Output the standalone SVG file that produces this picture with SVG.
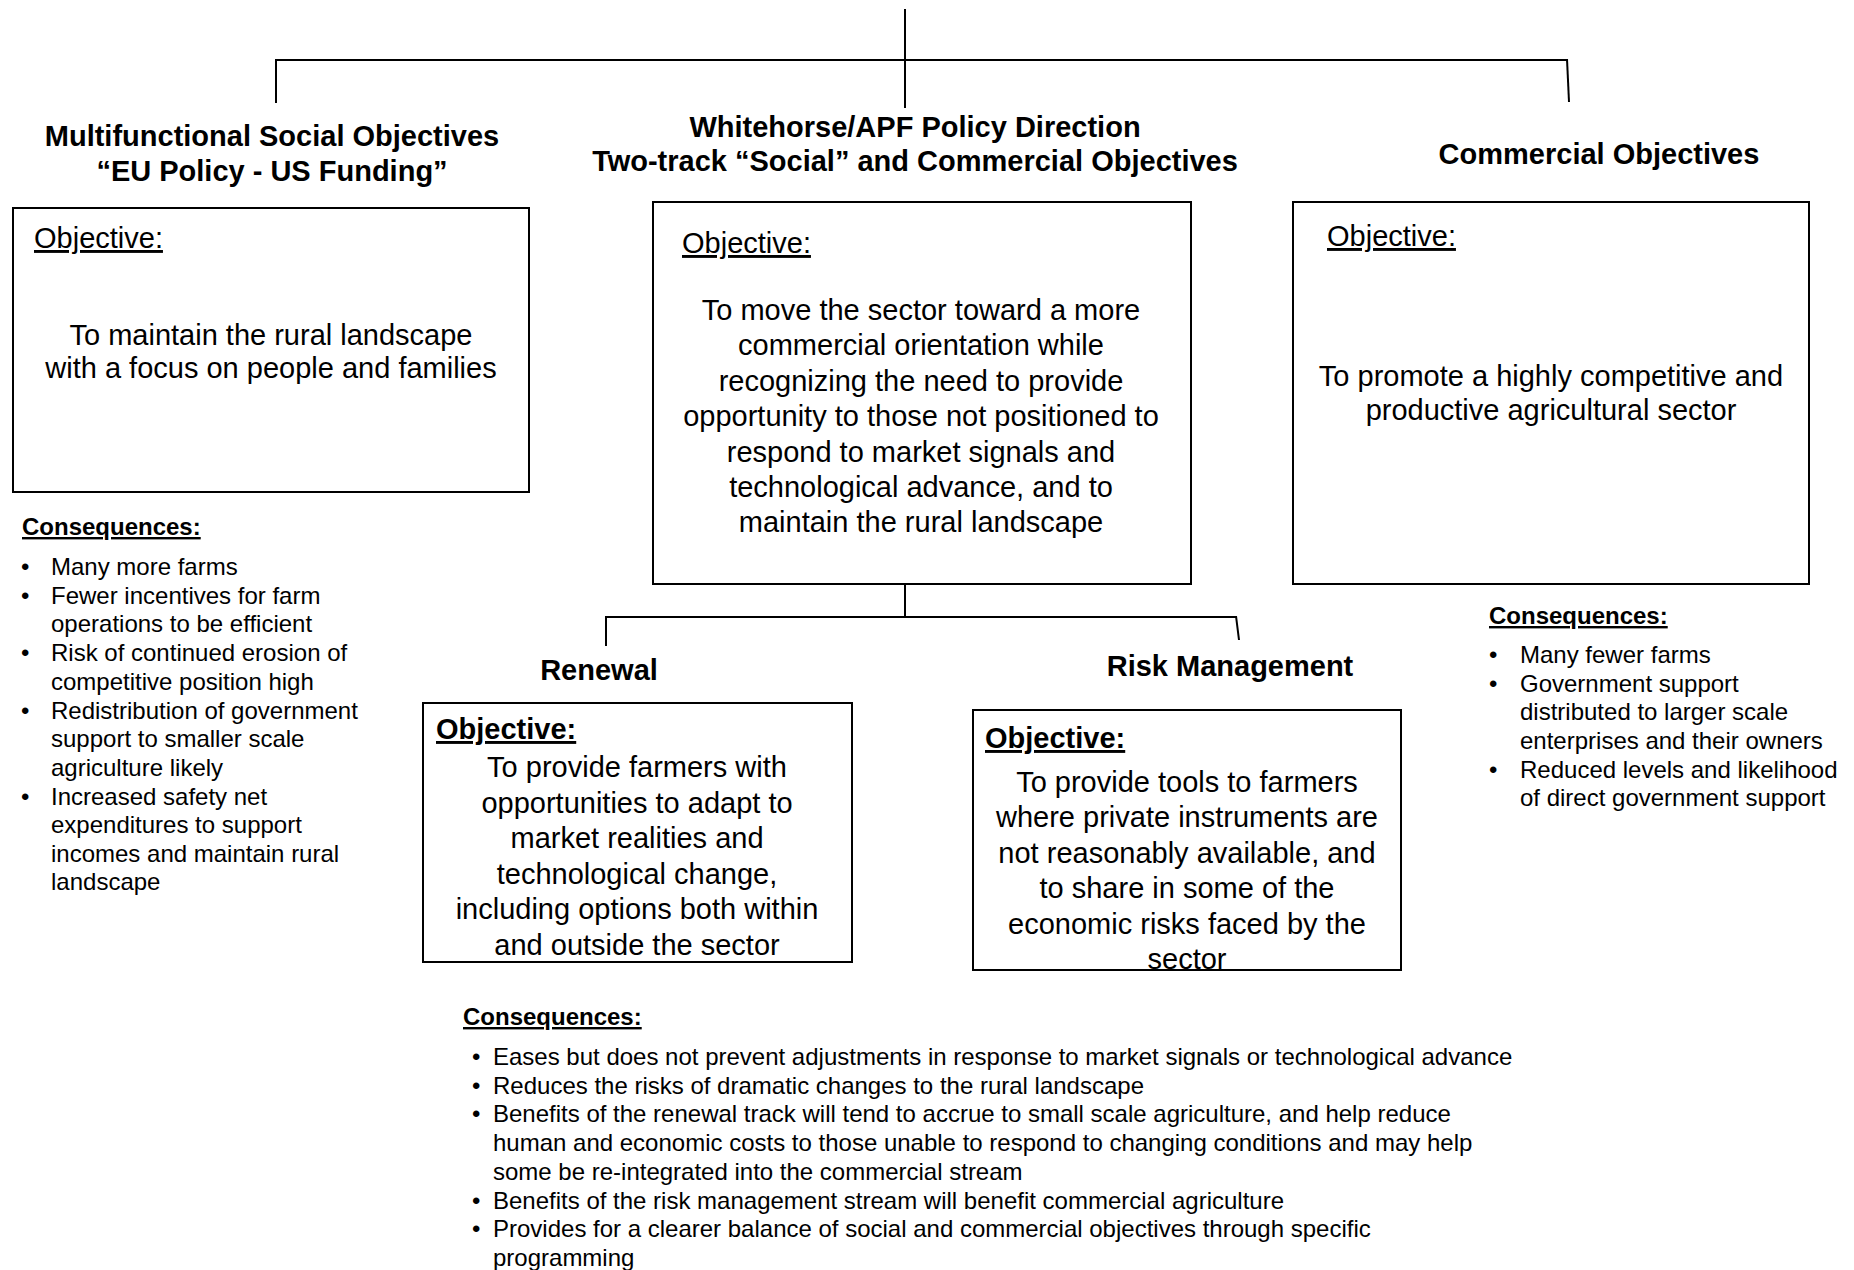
<svg xmlns="http://www.w3.org/2000/svg" width="1854" height="1270" viewBox="0 0 1854 1270">
<defs>
<style>
.box{fill:#fff;stroke:#000;stroke-width:2}
.ln{stroke:#000;stroke-width:2;fill:none}
text{font-family:"Liberation Sans",Arial,sans-serif;fill:#000}
.h{font-size:29px;font-weight:bold;text-anchor:middle}
.b{font-size:29px;text-anchor:middle}
.obj{font-size:29px;text-decoration:underline}
.objb{font-size:29px;font-weight:bold;text-decoration:underline}
.cq{font-size:24px;font-weight:bold;text-decoration:underline}
.li{font-size:24px}
</style>
<clipPath id="riskClip"><rect x="973" y="710" width="428" height="259"/></clipPath>
</defs>
<rect width="1854" height="1270" fill="#fff"/>

<g id="connectors">
<line class="ln" x1="905" y1="9" x2="905" y2="108"/>
<line class="ln" x1="276" y1="60" x2="1567" y2="60"/>
<line class="ln" x1="276" y1="59" x2="276" y2="103"/>
<line class="ln" x1="1567" y1="59" x2="1569" y2="102"/>
<line class="ln" x1="905" y1="584" x2="905" y2="617"/>
<line class="ln" x1="606" y1="617" x2="1236" y2="617"/>
<line class="ln" x1="606" y1="616" x2="606" y2="646"/>
<line class="ln" x1="1236" y1="616" x2="1239" y2="640"/>
</g>

<g id="node-multifunctional">
<text class="h" x="272" y="146">Multifunctional Social Objectives</text>
<text class="h" x="272" y="181">“EU Policy - US Funding”</text>
<rect class="box" x="13" y="208" width="516" height="284"/>
<text class="obj" x="34" y="248">Objective:</text>
<text class="b" x="271" y="345">To maintain the rural landscape</text>
<text class="b" x="271" y="378">with a focus on people and families</text>
</g>

<g id="node-multifunctional-consequences">
<text class="cq" x="22" y="535">Consequences:</text>
<text class="li" x="21" y="575">•</text><text class="li" x="51" y="575">Many more farms</text>
<text class="li" x="21" y="604">•</text><text class="li" x="51" y="604">Fewer incentives for farm</text>
<text class="li" x="51" y="632">operations to be efficient</text>
<text class="li" x="21" y="661">•</text><text class="li" x="51" y="661">Risk of continued erosion of</text>
<text class="li" x="51" y="689.5">competitive position high</text>
<text class="li" x="21" y="719">•</text><text class="li" x="51" y="719">Redistribution of government</text>
<text class="li" x="51" y="747">support to smaller scale</text>
<text class="li" x="51" y="775.5">agriculture likely</text>
<text class="li" x="21" y="805">•</text><text class="li" x="51" y="805">Increased safety net</text>
<text class="li" x="51" y="833">expenditures to support</text>
<text class="li" x="51" y="861.5">incomes and maintain rural</text>
<text class="li" x="51" y="890">landscape</text>
</g>

<g id="node-whitehorse">
<text class="h" x="915" y="137">Whitehorse/APF Policy Direction</text>
<text class="h" x="915" y="171">Two-track “Social” and Commercial Objectives</text>
<rect class="box" x="653" y="202" width="538" height="382"/>
<text class="obj" x="682" y="253">Objective:</text>
<text class="b" x="921" y="320">To move the sector toward a more</text>
<text class="b" x="921" y="355.4">commercial orientation while</text>
<text class="b" x="921" y="390.8">recognizing the need to provide</text>
<text class="b" x="921" y="426.2">opportunity to those not positioned to</text>
<text class="b" x="921" y="461.6">respond to market signals and</text>
<text class="b" x="921" y="497">technological advance, and to</text>
<text class="b" x="921" y="532.4">maintain the rural landscape</text>
</g>

<g id="node-commercial">
<text class="h" x="1599" y="164">Commercial Objectives</text>
<rect class="box" x="1293" y="202" width="516" height="382"/>
<text class="obj" x="1327" y="246">Objective:</text>
<text class="b" x="1551" y="386">To promote a highly competitive and</text>
<text class="b" x="1551" y="420">productive agricultural sector</text>
</g>

<g id="node-commercial-consequences">
<text class="cq" x="1489" y="624">Consequences:</text>
<text class="li" x="1489" y="663">•</text><text class="li" x="1520" y="663">Many fewer farms</text>
<text class="li" x="1489" y="691.5">•</text><text class="li" x="1520" y="691.5">Government support</text>
<text class="li" x="1520" y="720">distributed to larger scale</text>
<text class="li" x="1520" y="749">enterprises and their owners</text>
<text class="li" x="1489" y="777.5">•</text><text class="li" x="1520" y="777.5">Reduced levels and likelihood</text>
<text class="li" x="1520" y="806">of direct government support</text>
</g>

<g id="node-renewal">
<text class="h" x="599" y="680">Renewal</text>
<rect class="box" x="423" y="703" width="429" height="259"/>
<text class="objb" x="436" y="739">Objective:</text>
<text class="b" x="637" y="777">To provide farmers with</text>
<text class="b" x="637" y="812.5">opportunities to adapt to</text>
<text class="b" x="637" y="848">market realities and</text>
<text class="b" x="637" y="883.5">technological change,</text>
<text class="b" x="637" y="919">including options both within</text>
<text class="b" x="637" y="954.5">and outside the sector</text>
</g>

<g id="node-risk">
<text class="h" x="1230" y="676">Risk Management</text>
<rect class="box" x="973" y="710" width="428" height="260"/>
<text class="objb" x="985" y="748">Objective:</text>
<g clip-path="url(#riskClip)">
<text class="b" x="1187" y="792">To provide tools to farmers</text>
<text class="b" x="1187" y="827.4">where private instruments are</text>
<text class="b" x="1187" y="862.8">not reasonably available, and</text>
<text class="b" x="1187" y="898.2">to share in some of the</text>
<text class="b" x="1187" y="933.6">economic risks faced by the</text>
<text class="b" x="1187" y="969">sector</text>
</g>
</g>

<g id="node-twotrack-consequences">
<text class="cq" x="463" y="1025">Consequences:</text>
<text class="li" x="472" y="1065">•</text><text class="li" x="493" y="1065">Eases but does not prevent adjustments in response to market signals or technological advance</text>
<text class="li" x="472" y="1093.5">•</text><text class="li" x="493" y="1093.5">Reduces the risks of dramatic changes to the rural landscape</text>
<text class="li" x="472" y="1122">•</text><text class="li" x="493" y="1122">Benefits of the renewal track will tend to accrue to small scale agriculture, and help reduce</text>
<text class="li" x="493" y="1151">human and economic costs to those unable to respond to changing conditions and may help</text>
<text class="li" x="493" y="1180">some be re-integrated into the commercial stream</text>
<text class="li" x="472" y="1208.5">•</text><text class="li" x="493" y="1208.5">Benefits of the risk management stream will benefit commercial agriculture</text>
<text class="li" x="472" y="1237">•</text><text class="li" x="493" y="1237">Provides for a clearer balance of social and commercial objectives through specific</text>
<text class="li" x="493" y="1265.5">programming</text>
</g>
</svg>
